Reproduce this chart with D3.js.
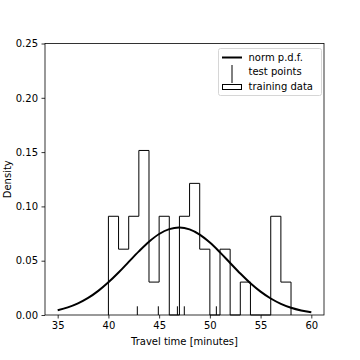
<!DOCTYPE html>
<html>
<head>
<meta charset="utf-8">
<script src="https://cdn.jsdelivr.net/npm/d3@7"></script>
<style>
  body { margin: 0; background: #fff; }
  svg { display: block; }
  text { font-family: "DejaVu Sans", sans-serif; }
</style>
</head>
<body>
<div id="chart-area"></div>
<script>

// training data histogram: first bin edge, bin width, counts per bin
var binStart = 40;
var binWidth = 1;
var binCounts = [3, 2, 3, 5, 1, 3, 0, 3, 4, 2, 0, 2, 0, 1, 0, 0, 3, 1];

// test points (minutes)
var testPoints = [42.85, 44.92, 46.8, 47.48, 50.64];
var testTick = 0.008;

// fitted normal p.d.f.
var pdfX = [35, 36, 37, 38, 39, 40, 41, 42, 43, 44, 45, 46, 47,
            48, 49, 50, 51, 52, 53, 54, 55, 56, 57, 58, 59, 60];
var pdfY = [0.0044, 0.0070, 0.0107, 0.0157, 0.0222, 0.0301, 0.0391, 0.0489, 0.0586,
            0.0675, 0.0746, 0.0791, 0.0806, 0.0788, 0.0740, 0.0667, 0.0577, 0.0479,
            0.0382, 0.0292, 0.0215, 0.0152, 0.0103, 0.0067, 0.0042, 0.0025];

var xTicks = [35, 40, 45, 50, 55, 60];
var yTicks = [0, 0.05, 0.10, 0.15, 0.20, 0.25];

var W = 360, H = 360;
var mLeft = 45, mRight = 324, mTop = 43.5, mBottom = 315;

var svg = d3.select("#chart-area")
    .append("svg")
        .attr("width", W)
        .attr("height", H);

svg.append("rect").attr("width", W).attr("height", H).attr("fill", "#fff");

var x = d3.scaleLinear().domain([33.75, 61.25]).range([mLeft, mRight]);
var y = d3.scaleLinear().domain([0, 0.25]).range([mBottom, mTop]);

var total = d3.sum(binCounts);

// step outline of histogram
var pts = [[binStart, 0]];
binCounts.forEach(function(c, i) {
    var d = c / (total * binWidth);
    pts.push([binStart + i * binWidth, d]);
    pts.push([binStart + (i + 1) * binWidth, d]);
});
pts.push([binStart + binCounts.length * binWidth, 0]);

var stepLine = d3.line()
    .x(function(d) { return x(d[0]); })
    .y(function(d) { return y(d[1]); });

svg.append("path")
    .attr("d", stepLine(pts))
    .attr("fill", "none")
    .attr("stroke", "#000")
    .attr("stroke-width", 1);

// normal curve
var curve = d3.line()
    .x(function(d, i) { return x(pdfX[i]); })
    .y(function(d) { return y(d); })
    .curve(d3.curveCatmullRom);

svg.append("path")
    .attr("d", curve(pdfY))
    .attr("fill", "none")
    .attr("stroke", "#000")
    .attr("stroke-width", 2);

// test points
svg.selectAll("line.test")
    .data(testPoints)
    .enter()
    .append("line")
        .attr("class", "test")
        .attr("x1", function(d) { return x(d); })
        .attr("x2", function(d) { return x(d); })
        .attr("y1", y(0))
        .attr("y2", y(testTick))
        .attr("stroke", "#000")
        .attr("stroke-width", 1);

// axes
var xAxis = d3.axisBottom(x).tickValues(xTicks).tickSize(3.5).tickPadding(3.5)
    .tickFormat(d3.format("d"));
var yAxis = d3.axisLeft(y).tickValues(yTicks).tickSize(3.5).tickPadding(3.5)
    .tickFormat(d3.format(".2f"));

var gx = svg.append("g").attr("transform", "translate(0," + mBottom + ")").call(xAxis);
var gy = svg.append("g").attr("transform", "translate(" + mLeft + ",0)").call(yAxis);

[gx, gy].forEach(function(g) {
    g.select(".domain").remove();
    g.selectAll("line").attr("stroke", "#000").attr("stroke-width", 0.8);
    g.selectAll("text").attr("font-size", 10).attr("fill", "#000")
        .attr("font-family", "DejaVu Sans");
});

svg.append("rect")
    .attr("x", mLeft).attr("y", mTop)
    .attr("width", mRight - mLeft).attr("height", mBottom - mTop)
    .attr("fill", "none")
    .attr("stroke", "#000")
    .attr("stroke-width", 0.8);

svg.append("text")
    .attr("x", (mLeft + mRight) / 2)
    .attr("y", 345)
    .attr("text-anchor", "middle")
    .attr("font-size", 10)
    .text("Travel time [minutes]");

svg.append("text")
    .attr("transform", "translate(11," + ((mTop + mBottom) / 2) + ") rotate(-90)")
    .attr("text-anchor", "middle")
    .attr("font-size", 10)
    .text("Density");

// legend
var lg = svg.append("g");
lg.append("rect")
    .attr("x", 218.5).attr("y", 48.5)
    .attr("width", 103).attr("height", 47)
    .attr("rx", 2)
    .attr("fill", "#fff")
    .attr("fill-opacity", 0.8)
    .attr("stroke", "#d6d6d6")
    .attr("stroke-width", 1);

lg.append("line")
    .attr("x1", 222).attr("x2", 242).attr("y1", 57.5).attr("y2", 57.5)
    .attr("stroke", "#000").attr("stroke-width", 2);
lg.append("line")
    .attr("x1", 232).attr("x2", 232).attr("y1", 65).attr("y2", 83)
    .attr("stroke", "#000").attr("stroke-width", 1);
lg.append("rect")
    .attr("x", 222.5).attr("y", 84.5).attr("width", 19).attr("height", 5)
    .attr("fill", "none").attr("stroke", "#000").attr("stroke-width", 1);

var labels = ["norm p.d.f.", "test points", "training data"];
var rowsY = [61, 74.5, 90];
lg.selectAll("text")
    .data(labels)
    .enter()
    .append("text")
        .attr("x", 248.5)
        .attr("y", function(d, i) { return rowsY[i]; })
        .attr("font-size", 10)
        .text(function(d) { return d; });

</script>
</body>
</html>
